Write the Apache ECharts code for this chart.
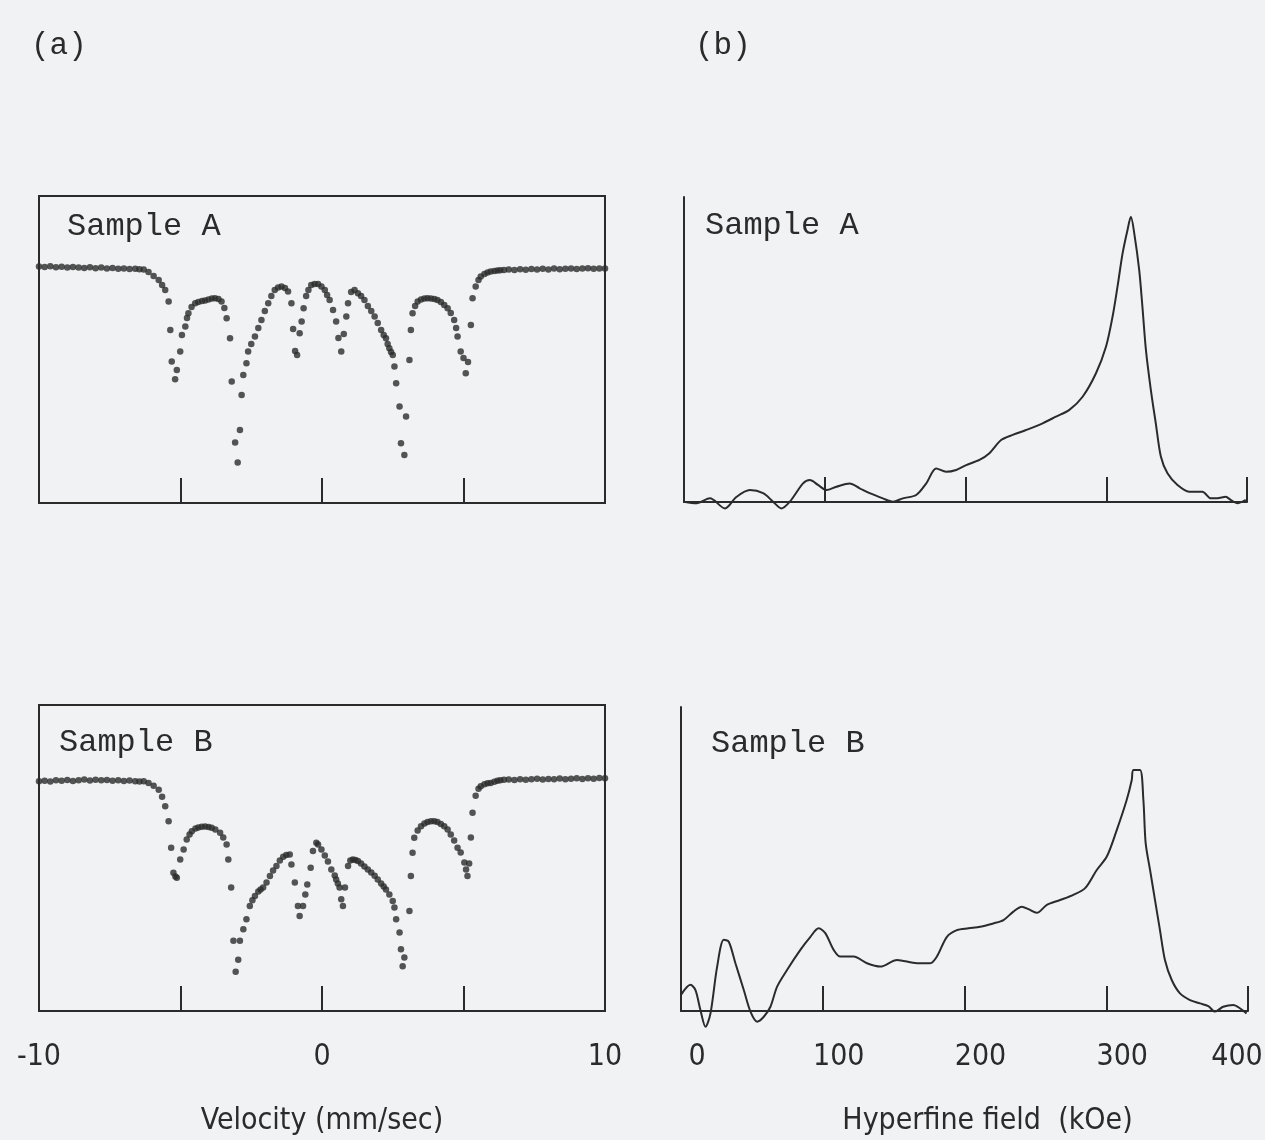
<!doctype html>
<html>
<head>
<meta charset="utf-8">
<title>Mossbauer spectra / hyperfine field distribution</title>
<style>
	html, body { margin: 0; padding: 0; background: #f1f2f4; }
	#main { width: 1265px; height: 1140px; }
</style>
<script src="https://cdn.jsdelivr.net/npm/echarts@6/dist/echarts.min.js"></script>
</head>
<body>
<div id="main"></div>
<script>
	// (a) Mossbauer spectra: [velocity mm/s, relative transmission %]
	var specA = [
		[-10.0,100.08],[-9.8,100.05],[-9.6,100.09],[-9.4,100.04],[-9.2,100.06],[-9.0,100.02],[-8.8,100.05],[-8.6,100.03],[-8.4,100.0],[-8.2,100.04],
		[-8.0,99.99],[-7.8,100.02],[-7.6,99.97],[-7.4,100.0],[-7.2,99.96],[-7.0,99.98],[-6.8,99.95],[-6.6,99.96],[-6.45,99.94],
		[-6.30,99.93],[-6.13,99.80],[-5.95,99.60],[-5.77,99.40],[-5.65,99.15],[-5.54,98.90],[-5.42,98.32],[-5.36,96.90],[-5.31,95.32],[-5.19,94.44],
		[-5.13,94.90],[-5.01,95.82],[-4.95,96.65],[-4.83,97.07],[-4.77,97.50],[-4.72,97.74],[-4.61,98.05],[-4.48,98.24],[-4.37,98.30],[-4.24,98.35],
		[-4.13,98.37],[-4.01,98.43],[-3.89,98.48],[-3.78,98.49],[-3.66,98.45],[-3.55,98.32],[-3.45,98.00],[-3.37,97.49],[-3.25,96.49],[-3.19,94.32],
		[-3.07,91.27],[-2.98,90.27],[-2.90,91.90],[-2.84,93.65],[-2.78,94.65],[-2.67,95.24],[-2.61,95.82],[-2.50,96.20],[-2.37,96.57],[-2.25,97.00],
		[-2.14,97.40],[-2.02,97.85],[-1.90,98.24],[-1.79,98.60],[-1.67,98.90],[-1.55,99.03],[-1.43,99.07],[-1.31,99.00],[-1.20,98.82],[-1.08,98.24],
		[-1.02,96.95],[-0.95,95.85],[-0.88,95.65],[-0.79,96.74],[-0.72,97.32],[-0.65,97.99],[-0.56,98.60],[-0.48,98.90],[-0.38,99.15],[-0.26,99.20],
		[-0.14,99.20],[-0.02,99.08],[0.10,98.90],[0.18,98.65],[0.27,98.40],[0.39,97.90],[0.50,97.32],[0.58,96.50],[0.68,95.82],[0.77,96.70],
		[0.86,97.57],[0.92,98.24],[1.03,98.80],[1.15,98.90],[1.27,98.74],[1.38,98.60],[1.50,98.40],[1.62,98.10],[1.74,97.85],[1.86,97.57],
		[1.97,97.25],[2.09,96.90],[2.18,96.65],[2.26,96.49],[2.32,96.20],[2.38,95.99],[2.44,95.80],[2.50,95.65],[2.56,95.07],[2.62,94.24],
		[2.74,93.07],[2.79,91.24],[2.91,90.65],[2.97,92.57],[3.09,95.40],[3.14,96.90],[3.20,97.74],[3.29,98.10],[3.38,98.32],[3.50,98.43],
		[3.62,98.48],[3.73,98.49],[3.85,98.48],[3.97,98.45],[4.08,98.40],[4.20,98.30],[4.32,98.15],[4.44,97.99],[4.55,97.75],[4.67,97.40],
		[4.74,97.00],[4.79,96.57],[4.90,95.82],[5.00,95.50],[5.08,94.74],[5.16,95.30],[5.26,97.15],[5.32,98.49],[5.43,99.07],[5.53,99.40],
		[5.61,99.57],[5.74,99.70],[5.85,99.78],[5.96,99.82],[6.09,99.85],[6.20,99.88],[6.30,99.89],[6.43,99.90],
		[6.6,99.92],[6.8,99.90],[7.0,99.94],[7.2,99.91],[7.4,99.95],[7.6,99.92],[7.8,99.96],[8.0,99.93],[8.2,99.97],[8.4,99.94],
		[8.6,99.96],[8.8,99.98],[9.0,99.95],[9.2,99.97],[9.4,99.99],[9.6,99.96],[9.8,99.98],[10.0,99.97]
	];
	var specB = [
		[-10.0,99.78],[-9.8,99.80],[-9.6,99.76],[-9.4,99.82],[-9.2,99.80],[-9.0,99.84],[-8.8,99.79],[-8.6,99.83],[-8.4,99.86],[-8.2,99.81],
		[-8.0,99.85],[-7.8,99.82],[-7.6,99.84],[-7.4,99.80],[-7.2,99.83],[-7.0,99.79],[-6.8,99.81],[-6.6,99.77],[-6.45,99.76],
		[-6.30,99.78],[-6.13,99.69],[-5.95,99.55],[-5.77,99.35],[-5.65,99.00],[-5.54,98.52],[-5.42,97.77],[-5.33,96.44],[-5.25,95.19],[-5.18,95.00],
		[-5.13,94.94],[-5.01,95.85],[-4.89,96.35],[-4.78,96.85],[-4.68,97.10],[-4.60,97.27],[-4.47,97.40],[-4.37,97.45],[-4.25,97.49],[-4.13,97.50],
		[-4.01,97.48],[-3.90,97.44],[-3.77,97.35],[-3.60,97.19],[-3.49,96.95],[-3.37,96.60],[-3.31,95.85],[-3.21,94.44],[-3.13,91.77],[-3.05,90.22],
		[-2.96,90.82],[-2.90,91.77],[-2.78,92.35],[-2.67,92.85],[-2.55,93.52],[-2.46,93.80],[-2.37,94.02],[-2.25,94.25],[-2.17,94.35],[-2.08,94.44],
		[-1.96,94.70],[-1.84,95.02],[-1.73,95.30],[-1.61,95.52],[-1.49,95.80],[-1.37,95.99],[-1.26,96.08],[-1.14,96.10],[-1.08,95.60],[-0.96,94.69],
		[-0.85,93.52],[-0.79,93.02],[-0.67,93.52],[-0.59,94.10],[-0.52,94.60],[-0.40,95.44],[-0.32,96.27],[-0.20,96.69],[-0.14,96.60],[-0.02,96.35],
		[0.10,96.05],[0.21,95.75],[0.33,95.35],[0.45,95.05],[0.50,94.85],[0.56,94.65],[0.62,94.44],[0.68,93.85],[0.74,93.52],[0.81,94.45],
		[0.92,95.52],[1.00,95.80],[1.09,95.85],[1.18,95.83],[1.27,95.77],[1.38,95.65],[1.50,95.50],[1.62,95.35],[1.74,95.20],[1.86,95.03],
		[1.97,94.85],[2.09,94.65],[2.18,94.50],[2.26,94.35],[2.38,94.10],[2.50,93.77],[2.56,93.44],[2.62,92.85],[2.74,92.19],[2.79,91.35],
		[2.85,90.49],[2.91,90.94],[3.09,93.27],[3.14,95.02],[3.20,96.19],[3.26,96.94],[3.38,97.30],[3.50,97.52],[3.62,97.65],[3.73,97.73],
		[3.85,97.77],[3.97,97.77],[4.08,97.73],[4.20,97.63],[4.32,97.52],[4.44,97.35],[4.55,97.10],[4.67,96.80],[4.79,96.44],[4.90,96.20],
		[5.03,95.70],[5.09,95.35],[5.14,95.02],[5.20,95.65],[5.26,96.95],[5.32,98.20],[5.43,99.05],[5.53,99.40],[5.61,99.52],[5.74,99.63],
		[5.85,99.68],[5.96,99.69],[6.09,99.75],[6.20,99.80],[6.30,99.83],[6.43,99.85],
		[6.6,99.86],[6.8,99.84],[7.0,99.88],[7.2,99.85],[7.4,99.87],[7.6,99.90],[7.8,99.86],[8.0,99.89],[8.2,99.87],[8.4,99.91],
		[8.6,99.88],[8.8,99.90],[9.0,99.92],[9.2,99.89],[9.4,99.93],[9.6,99.90],[9.8,99.94],[10.0,99.92]
	];

	// (b) hyperfine field distribution: [field kOe, probability (arb.)]
	var hfA = [
		[0,0.1],[9,-0.4],[18.4,1.2],[29.1,-2.1],[37.4,1.7],[46.8,3.9],[56.2,2.9],[63.3,0.1],[69.3,-2.1],[75.2,0.1],
		[84.6,6.1],[89.4,7.2],[95.2,5.6],[101.2,3.9],[108.3,5.0],[117.7,6.1],[124.8,4.5],[131.9,2.9],[141.3,1.2],[148.4,0.1],
		[155.5,1.2],[165,2.3],[172.1,6.1],[179.2,11.0],[186.3,9.9],[193.4,10.5],[200.5,12.1],[209.9,13.8],[217,16.0],[225.3,20.3],
		[233.5,22.0],[243,23.6],[254.8,25.8],[264.3,28.0],[273.8,30.2],[283.2,34.5],[292.7,42.2],[299.8,50.9],[304.5,60.8],[308,70.6],
		[311.6,81.5],[315.1,89.2],[317.5,93.5],[319.9,88.1],[323.4,76.1],[325.7,64.0],[328.2,49.8],[331.7,36.7],[335.2,25.8],[338.8,14.9],
		[343.5,9.4],[350.6,5.6],[358.9,3.4],[368.3,3.4],[374.3,1.2],[378.9,1.2],[384.9,1.7],[388.4,0.7],[393.1,-0.4],[399.1,0.7]
	];
	var hfB = [
		[0,5.3],[6.7,8.6],[10.2,6.9],[13.7,0.3],[17.3,-5.2],[20.8,-0.8],[25.5,14.6],[30.2,23.4],[33.7,22.8],[38.4,15.7],
		[44.3,6.9],[49.0,-0.2],[53.7,-3.5],[58.4,-1.9],[63.1,1.4],[67.8,8.0],[74.8,13.5],[84.2,20.1],[91.3,24.4],[97.1,27.2],
		[101.8,25.6],[107.7,20.1],[112.4,17.9],[121.8,17.9],[131.2,15.7],[140.6,14.6],[152.4,16.8],[166.5,15.7],[175.8,15.7],[180.5,17.9],
		[187.6,24.4],[194.6,26.6],[202.8,27.2],[211.1,27.7],[220.4,28.8],[227.5,29.9],[234.5,32.7],[240.5,34.3],[245.1,33.5],[251.0,32.3],
		[258.1,34.9],[267.4,36.5],[276.8,38.2],[285.1,40.4],[293.3,46.4],[300.4,50.8],[307.4,59.5],[314.4,69.4],[318.0,76.0],[319.1,79.3],
		[323.8,79.3],[326.2,69.4],[327.8,55.2],[330.9,46.4],[334.4,36.5],[337.9,26.6],[341.4,16.8],[346.2,10.2],[352.0,5.8],[359.1,3.6],
		[366.1,2.5],[372.0,1.6],[376.7,-0.2],[382.5,1.4],[389.6,2.0],[394.3,0.9],[399.0,-0.8]
	];

	var velTicks = [-10, 0, 10];           // labelled velocity ticks
	var fieldTicks = [0, 100, 200, 300, 400];

	var ink = '#2b2b2b';
	var monoFont = "'Liberation Mono', 'DejaVu Sans Mono', monospace";
	var narrowFont = "'Liberation Sans Narrow', 'DejaVu Sans Condensed', 'Liberation Sans', sans-serif";

	function label(text, x, y, size) {
		return {
			text: text, left: x, top: y, padding: 0,
			textStyle: { fontFamily: monoFont, fontSize: size, fontWeight: 'normal', color: ink }
		};
	}

	// 左列: 速度軸 (枠付き)
	function velAxis(grid, withLabels) {
		return {
			gridIndex: grid, type: 'value', min: -10, max: 10, interval: 5,
			axisLine: { show: false },
			axisTick: { inside: true, length: 25, lineStyle: { color: ink, width: 2 } },
			splitLine: { show: false },
			axisLabel: {
				show: withLabels, margin: 31, color: ink, fontSize: 30, fontFamily: narrowFont,
				formatter: function (v) { return velTicks.indexOf(v) >= 0 ? String(v) : ''; }
			},
			name: withLabels ? 'Velocity (mm/sec)' : '',
			nameLocation: 'middle', nameGap: 95,
			nameTextStyle: { color: ink, fontSize: 30, fontFamily: narrowFont }
		};
	}
	// 右列: 内部磁場軸
	function fieldAxis(grid, withLabels) {
		return {
			gridIndex: grid, type: 'value', min: 0, max: 400, interval: 100,
			axisLine: { show: true, onZero: false, lineStyle: { color: ink, width: 2 } },
			axisTick: { inside: true, length: 25, lineStyle: { color: ink, width: 2 } },
			splitLine: { show: false },
			axisLabel: {
				show: withLabels, margin: 31, color: ink, fontSize: 30, fontFamily: narrowFont,
				formatter: function (v) {
					if (fieldTicks.indexOf(v) < 0) return '';
					return v === 400 ? '{e|' + v + '}' : '{s|' + v + '}';
				},
				rich: {
					s: { padding: [0, 0, 0, 32], fontSize: 30, fontFamily: narrowFont, color: ink },
					e: { padding: [0, 22, 0, 0], fontSize: 30, fontFamily: narrowFont, color: ink }
				}
			},
			name: withLabels ? 'Hyperfine field  (kOe)' : '',
			nameLocation: 'middle', nameGap: 95,
			nameTextStyle: { color: ink, fontSize: 30, fontFamily: narrowFont, padding: [0, 0, 0, 46] }
		};
	}
	function transAxis(grid) {
		return {
			gridIndex: grid, type: 'value', min: 88.25, max: 103.6, show: false, splitLine: { show: false }
		};
	}
	function probAxis(grid) {
		return {
			gridIndex: grid, type: 'value', min: 0, max: 100,
			axisLine: { show: true, onZero: false, lineStyle: { color: ink, width: 2 } },
			axisTick: { show: false }, axisLabel: { show: false }, splitLine: { show: false }
		};
	}

	var myChart = echarts.init(document.getElementById('main'));
	var option = {
		backgroundColor: '#f1f2f4',
		animation: false,
		title: [
			label('(a)', 31, 30, 31),
			label('(b)', 695, 30, 31),
			label('Sample A', 67, 211, 32),
			label('Sample B', 59, 727, 32),
			label('Sample A', 705, 210, 32),
			label('Sample B', 711, 728, 32)
		],
		grid: [
			{ left: 39, top: 196, width: 566, height: 307, show: true, borderColor: ink, borderWidth: 2, backgroundColor: 'transparent', outerBoundsMode: 'none' },
			{ left: 39, top: 705, width: 566, height: 306, show: true, borderColor: ink, borderWidth: 2, backgroundColor: 'transparent', outerBoundsMode: 'none' },
			{ left: 684, top: 197, width: 563, height: 305, outerBoundsMode: 'none' },
			{ left: 681, top: 707, width: 567, height: 304, outerBoundsMode: 'none' }
		],
		xAxis: [velAxis(0, false), velAxis(1, true), fieldAxis(2, false), fieldAxis(3, true)],
		yAxis: [transAxis(0), transAxis(1), probAxis(2), probAxis(3)],
		series: [
			{ name: 'Sample A', type: 'scatter', xAxisIndex: 0, yAxisIndex: 0, data: specA, symbolSize: 6.5, itemStyle: { color: ink } },
			{ name: 'Sample B', type: 'scatter', xAxisIndex: 1, yAxisIndex: 1, data: specB, symbolSize: 6.5, itemStyle: { color: ink } },
			{ name: 'Sample A', type: 'line', xAxisIndex: 2, yAxisIndex: 2, data: hfA, showSymbol: false, smooth: 0.3, clip: false,
				lineStyle: { color: ink, width: 2 } },
			{ name: 'Sample B', type: 'line', xAxisIndex: 3, yAxisIndex: 3, data: hfB, showSymbol: false, smooth: 0.3, clip: false,
				lineStyle: { color: ink, width: 2 } }
		]
	};
	myChart.setOption(option);
</script>
</body>
</html>
